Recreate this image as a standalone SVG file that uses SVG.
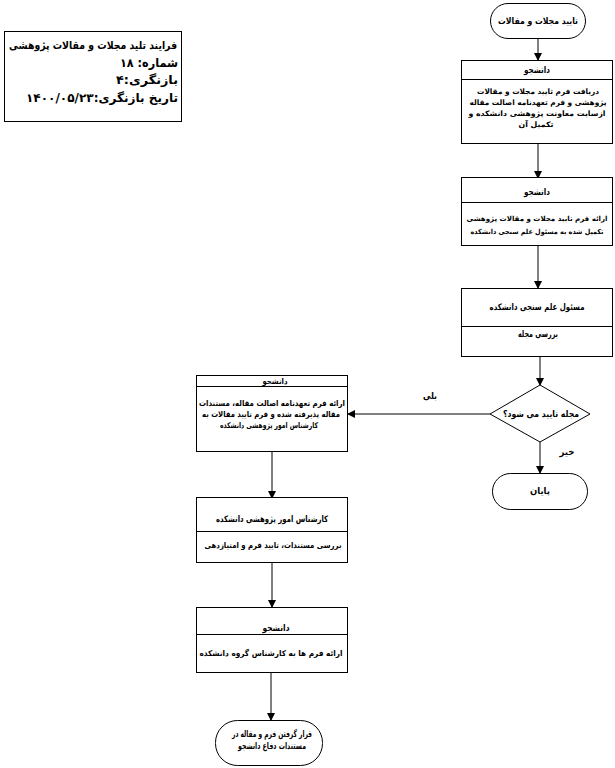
<svg xmlns="http://www.w3.org/2000/svg" width="615" height="768" viewBox="0 0 615 768">
<defs>
<marker id="ah" markerWidth="8" markerHeight="8" refX="7" refY="4" orient="auto" markerUnits="userSpaceOnUse">
<path d="M0,0 L8,4 L0,8 Z" fill="#000"/>
</marker>
</defs>
<style>
.shape{fill:#fff;stroke:#000;stroke-width:1}
.div{stroke:#000;stroke-width:1}
.t{font-family:"DejaVu Sans",sans-serif;font-size:9px;font-weight:bold;fill:#000;text-anchor:middle}
.s{font-size:8px}
.xs{font-size:7.5px}
.xxs{font-size:7px}
.info{font-family:"DejaVu Sans",sans-serif;font-size:12px;font-weight:bold;fill:#000;text-anchor:end}
.c{stroke:#000;stroke-width:1;fill:none;marker-end:url(#ah)}
</style>
<rect width="615" height="768" fill="#fff"/>

<g id="info">
<rect class="shape" x="4.5" y="31.5" width="177" height="90"/>
<text class="info" x="93" y="49" style="text-anchor:middle;font-size:11px" textLength="168" lengthAdjust="spacingAndGlyphs">فرایند تلید مجلات و  مقالات پژوهشی</text>
<text class="info" x="178" y="67" textLength="58" lengthAdjust="spacingAndGlyphs">شماره: ۱۸</text>
<text class="info" x="178" y="84" textLength="62" lengthAdjust="spacingAndGlyphs">بازنگری:۴</text>
<text class="info" x="178" y="102" textLength="152" lengthAdjust="spacingAndGlyphs">تاریخ بازنگری:۱۴۰۰/۰۵/۲۳</text>
</g>

<g id="connectors">
<line class="c" x1="538" y1="38" x2="538" y2="60"/>
<line class="c" x1="538" y1="143" x2="538" y2="178"/>
<line class="c" x1="538" y1="246" x2="538" y2="288"/>
<line class="c" x1="540" y1="357" x2="540" y2="385"/>
<line class="c" x1="490" y1="414" x2="348" y2="414"/>
<line class="c" x1="540" y1="442" x2="540" y2="473"/>
<line class="c" x1="272" y1="452" x2="272" y2="498"/>
<line class="c" x1="272" y1="563" x2="272" y2="607"/>
<line class="c" x1="271" y1="673" x2="271" y2="720"/>
<text class="t" x="430" y="399" textLength="14" lengthAdjust="spacingAndGlyphs">بلی</text>
<text class="t" x="567" y="455" textLength="15" lengthAdjust="spacingAndGlyphs">خیر</text>
</g>

<g id="start">
<rect class="shape" x="490.5" y="3.5" width="95" height="35" rx="17.5"/>
<text class="t" x="538" y="24" textLength="80" lengthAdjust="spacingAndGlyphs">تایید مجلات و مقالات</text>
</g>

<g id="box1">
<rect class="shape" x="461.5" y="60.5" width="151" height="83"/>
<line class="div" x1="461.5" y1="79.5" x2="612.5" y2="79.5"/>
<text class="t" x="537" y="73" textLength="26" lengthAdjust="spacingAndGlyphs">دانشجو</text>
<text class="t xs" x="538" y="94" textLength="122" lengthAdjust="spacingAndGlyphs">دریافت فرم تایید مجلات و مقالات</text>
<text class="t xs" x="538" y="105" textLength="137" lengthAdjust="spacingAndGlyphs">پژوهشی و فرم تعهدنامه اصالت مقاله</text>
<text class="t xs" x="537" y="116" textLength="137" lengthAdjust="spacingAndGlyphs">ازسایت  معاونت پژوهشی دانشکده و</text>
<text class="t xs" x="536" y="127" textLength="35" lengthAdjust="spacingAndGlyphs">تکمیل آن</text>
</g>

<g id="box2">
<rect class="shape" x="461.5" y="177.5" width="151" height="68"/>
<line class="div" x1="461.5" y1="202.5" x2="612.5" y2="202.5"/>
<text class="t" x="537" y="195" textLength="26" lengthAdjust="spacingAndGlyphs">دانشجو</text>
<text class="t xxs" x="537" y="221" textLength="141" lengthAdjust="spacingAndGlyphs">ارائه فرم تایید مجلات و مقالات  پژوهشی</text>
<text class="t xxs" x="537" y="234" textLength="133" lengthAdjust="spacingAndGlyphs">تکمیل شده به مسئول علم سنجی دانشکده</text>
</g>

<g id="box3">
<rect class="shape" x="461.5" y="288.5" width="151" height="68"/>
<line class="div" x1="461.5" y1="326.5" x2="612.5" y2="326.5"/>
<text class="t" x="537" y="310" textLength="95" lengthAdjust="spacingAndGlyphs">مسئول علم سنجی دانشکده</text>
<text class="t" x="538" y="337" textLength="40" lengthAdjust="spacingAndGlyphs">بررسی مجله</text>
</g>

<g id="decision">
<polygon class="shape" points="540,385 590,414 540,442 490,414"/>
<text class="t" x="541" y="417" textLength="76" lengthAdjust="spacingAndGlyphs">مجله تایید می شود؟</text>
</g>

<g id="end">
<rect class="shape" x="492.5" y="473.5" width="95" height="36" rx="18"/>
<text class="t" x="540" y="494" textLength="20" lengthAdjust="spacingAndGlyphs">پایان</text>
</g>

<g id="box4">
<rect class="shape" x="196.5" y="375.5" width="151" height="76"/>
<line class="div" x1="196.5" y1="386.5" x2="347.5" y2="386.5"/>
<text class="t s" x="275" y="384" textLength="25" lengthAdjust="spacingAndGlyphs">دانشجو</text>
<text class="t s" x="272" y="406" textLength="146" lengthAdjust="spacingAndGlyphs">ارائه فرم تعهدنامه اصالت مقاله، مستندات</text>
<text class="t s" x="271" y="417" textLength="138" lengthAdjust="spacingAndGlyphs">مقاله پذیرفته شده و  فرم تایید مقالات به</text>
<text class="t s" x="269" y="428" textLength="98" lengthAdjust="spacingAndGlyphs">کارشناس امور پژوهشی دانشکده</text>
</g>

<g id="box5">
<rect class="shape" x="196.5" y="497.5" width="151" height="65"/>
<line class="div" x1="196.5" y1="531.5" x2="347.5" y2="531.5"/>
<text class="t" x="272" y="522" textLength="112" lengthAdjust="spacingAndGlyphs">کارشناس امور پژوهشی دانشکده</text>
<text class="t s" x="273" y="548" textLength="137" lengthAdjust="spacingAndGlyphs">بررسی مستندات، تایید فرم و امتیازدهی</text>
</g>

<g id="box6">
<rect class="shape" x="196.5" y="607.5" width="151" height="65"/>
<line class="div" x1="196.5" y1="634.5" x2="347.5" y2="634.5"/>
<text class="t" x="276" y="631" textLength="27" lengthAdjust="spacingAndGlyphs">دانشجو</text>
<text class="t s" x="271" y="656" textLength="143" lengthAdjust="spacingAndGlyphs">ارائه  فرم ها  به کارشناس گروه دانشکده</text>
</g>

<g id="final">
<rect class="shape" x="215.5" y="720.5" width="107" height="45" rx="22"/>
<text class="t" x="272" y="737" textLength="80" lengthAdjust="spacingAndGlyphs">قرار گرفتن فرم و مقاله در</text>
<text class="t" x="272" y="749" textLength="68" lengthAdjust="spacingAndGlyphs">مستندات دفاع دانشجو</text>
</g>
</svg>
